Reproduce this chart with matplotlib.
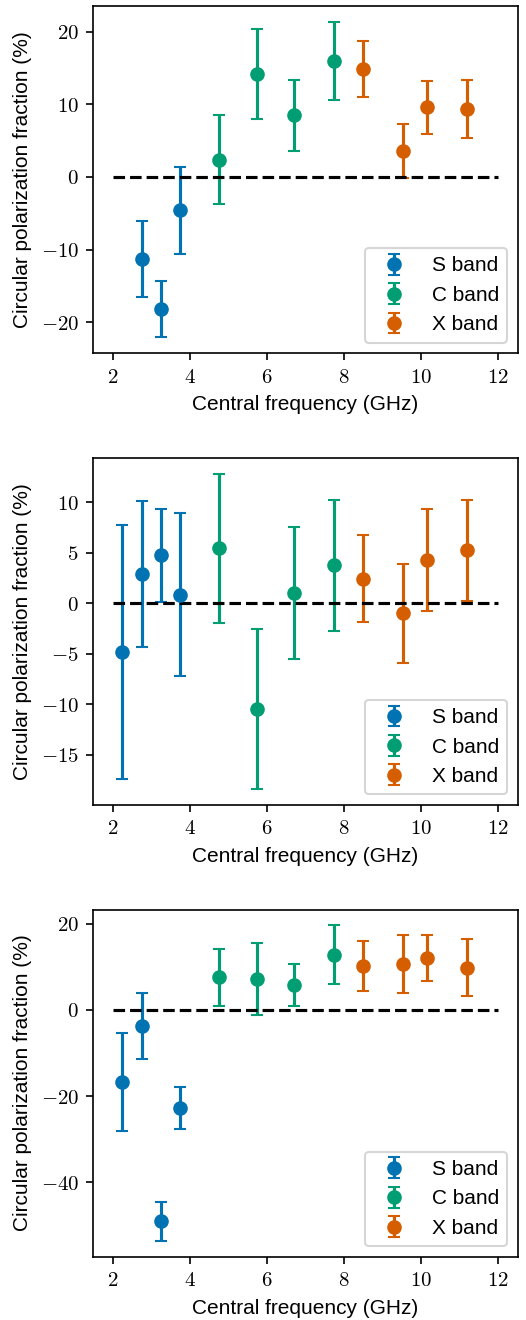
import matplotlib
matplotlib.use("Agg")
import matplotlib.pyplot as plt
from matplotlib.ticker import FuncFormatter

plt.rcParams['font.family'] = ['Liberation Sans', 'DejaVu Sans']
plt.rcParams['mathtext.fontset'] = 'cm'
plt.rcParams['font.size'] = 10

# central frequencies of each band (GHz)
S_freq = [2.25, 2.75, 3.25, 3.75]
C_freq = [4.75, 5.75, 6.7, 7.75]
X_freq = [8.5, 9.52, 10.15, 11.18]

# top panel (no 2.25 GHz point for S band)
top_S_freq = [2.75, 3.25, 3.75]
top_S = [-11.3, -18.2, -4.6]
top_S_err = [5.25, 3.85, 5.95]
top_C = [2.35, 14.1, 8.45, 15.95]
top_C_err = [6.1, 6.2, 4.85, 5.4]
top_X = [14.9, 3.6, 9.6, 9.35]
top_X_err = [3.85, 3.7, 3.65, 4.05]

# middle panel
mid_S = [-4.8, 2.9, 4.75, 0.85]
mid_S_err = [12.6, 7.2, 4.6, 8.05]
mid_C = [5.45, -10.45, 1.05, 3.75]
mid_C_err = [7.4, 7.95, 6.55, 6.5]
mid_X = [2.45, -1.0, 4.3, 5.25]
mid_X_err = [4.35, 4.9, 5.05, 5.0]

# bottom panel
bot_S = [-16.8, -3.7, -49.1, -22.8]
bot_S_err = [11.4, 7.7, 4.5, 4.85]
bot_C = [7.6, 7.2, 5.85, 12.8]
bot_C_err = [6.6, 8.35, 4.85, 6.8]
bot_X = [10.25, 10.7, 12.1, 9.8]
bot_X_err = [5.8, 6.7, 5.35, 6.7]

band_labels = ["S band", "C band", "X band"]
band_colors = ["#0173b2", "#029e73", "#d55e00"]

panels = [
	[(top_S_freq, top_S, top_S_err), (C_freq, top_C, top_C_err), (X_freq, top_X, top_X_err)],
	[(S_freq, mid_S, mid_S_err), (C_freq, mid_C, mid_C_err), (X_freq, mid_X, mid_X_err)],
	[(S_freq, bot_S, bot_S_err), (C_freq, bot_C, bot_C_err), (X_freq, bot_X, bot_X_err)],
]

fig, axes = plt.subplots(3, 1, figsize=(526/150, 1320/150), dpi=150)
plt.subplots_adjust(left=0.1774, right=0.984, top=0.9955, bottom=0.048, hspace=0.302)

math_fmt = FuncFormatter(lambda v, p: '$%g$' % v)

for ax, bands in zip(axes, panels):
	for (f, v, e), lab, col in zip(bands, band_labels, band_colors):
		ax.errorbar(f, v, yerr=e, fmt='o', color=col, capsize=3, label=lab)
	ax.plot([2, 12], [0, 0], 'k--')
	ax.legend(loc='lower right')
	ax.xaxis.set_major_formatter(math_fmt)
	ax.yaxis.set_major_formatter(math_fmt)
	ax.set_xlabel("Central frequency (GHz)")
	ax.set_ylabel("Circular polarization fraction (%)")

plt.savefig("out.png", dpi=150)
